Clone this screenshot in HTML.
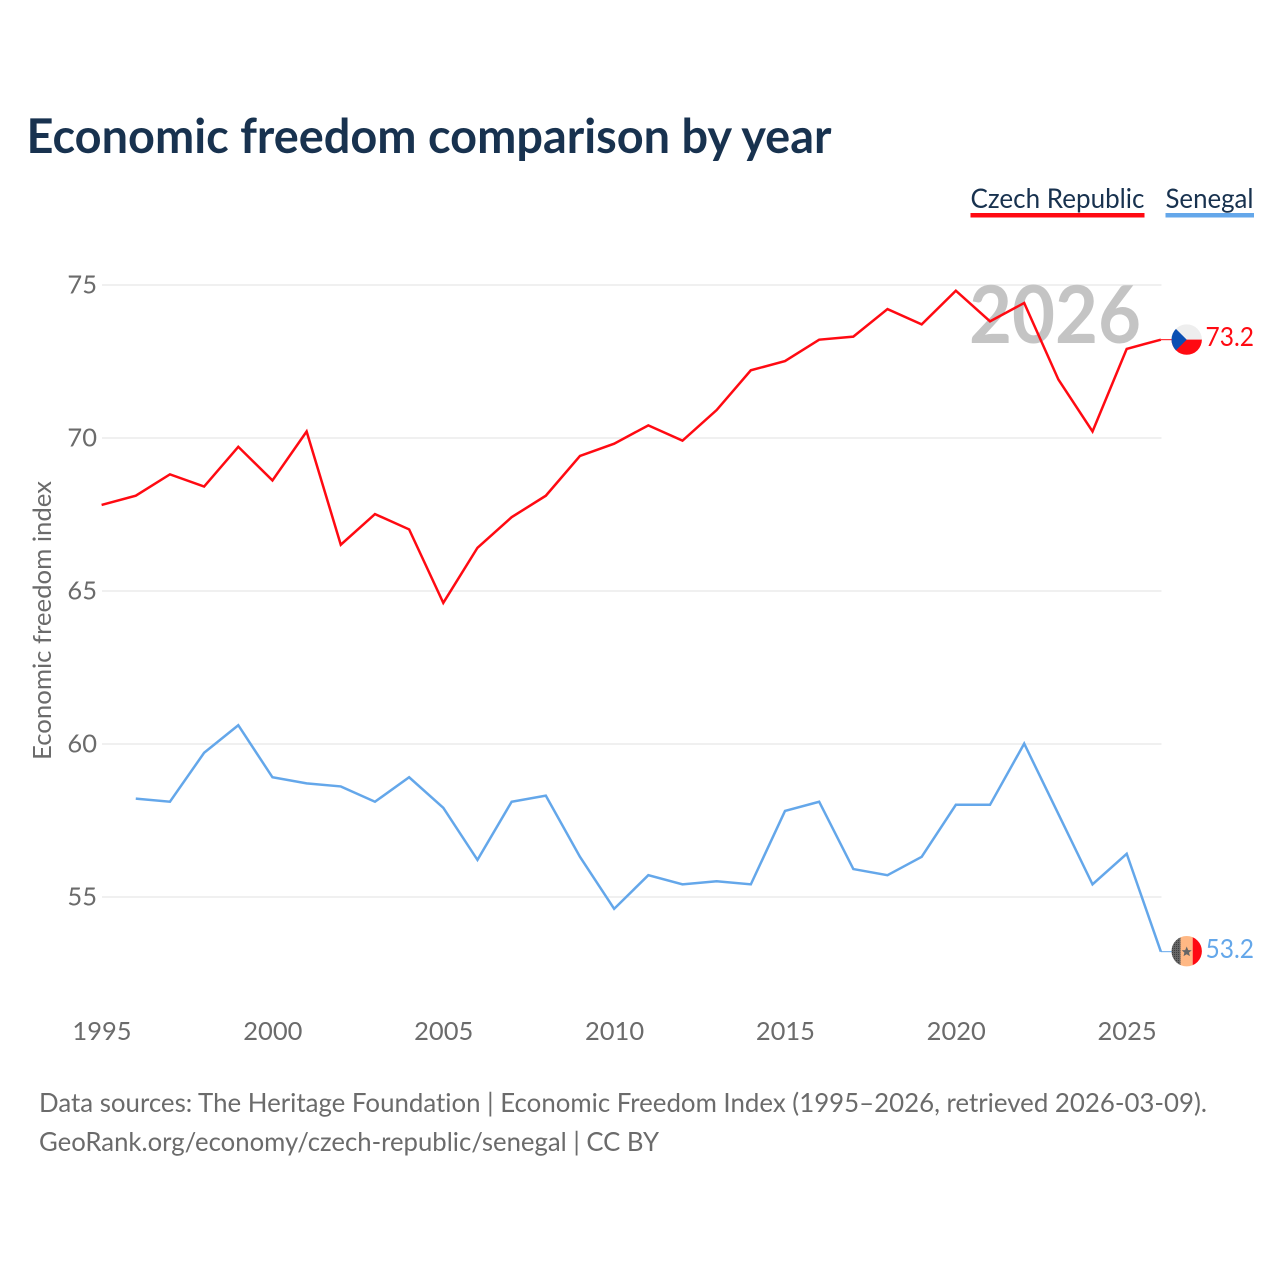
<!DOCTYPE html>
<html lang="en">
<head>
<meta charset="utf-8">
<title>Economic freedom comparison by year</title>
<style>
html,body{margin:0;padding:0;background:#fff}
svg{display:block}
text{font-family:"Lato","Carlito","Liberation Sans",sans-serif;font-variant-ligatures:none}
</style>
</head>
<body>
<svg id="chart" xmlns="http://www.w3.org/2000/svg" width="1280" height="1280" viewBox="0 0 1280 1280">
  <rect width="1280" height="1280" fill="#fff"/>
  <text x="26.5" y="153" font-size="47.5" font-weight="700" fill="#18324f" textLength="805" lengthAdjust="spacingAndGlyphs">Economic freedom comparison by year</text>

  <g>
    <text x="970.5" y="208" font-size="27.5" fill="#18324f" textLength="174" lengthAdjust="spacingAndGlyphs">Czech Republic</text>
    <rect x="970.5" y="213" width="174" height="4.5" fill="#ff0a12"/>
  </g>
  <g>
    <text x="1165.5" y="208" font-size="27.5" fill="#18324f" textLength="88" lengthAdjust="spacingAndGlyphs">Senegal</text>
    <rect x="1165.5" y="213" width="88.5" height="4.5" fill="#64a7ea"/>
  </g>

  <text transform="translate(51 760) rotate(-90)" font-size="25.5" fill="#6b6b6b" textLength="279" lengthAdjust="spacingAndGlyphs">Economic freedom index</text>

  <g id="grid"></g>
  <g id="yticks"></g>
  <g id="xticks"></g>

  <text x="1141" y="343" font-size="80" font-weight="700" fill="#c4c4c4" text-anchor="end" textLength="172" lengthAdjust="spacingAndGlyphs">2026</text>

  <g id="series"></g>

  <defs>
    <clipPath id="clip-cz"><circle cx="1186.7" cy="339.6" r="15.2"/></clipPath>
    <clipPath id="clip-sn"><circle cx="1186.7" cy="951.2" r="15.2"/></clipPath>
    <pattern id="dots" width="2" height="2" patternUnits="userSpaceOnUse">
      <rect width="2" height="2" fill="#666"/>
      <rect width="1" height="1" fill="#3f3f3f"/>
    </pattern>
  </defs>

  <g clip-path="url(#clip-cz)">
    <rect x="1171" y="324" width="31" height="15.6" fill="#eeeeee"/>
    <rect x="1171" y="339.6" width="31" height="16" fill="#ff0a12"/>
    <polygon points="1171,324 1186.7,339.6 1171,355.2" fill="#0b4fb3"/>
  </g>
  <text x="1205.5" y="346" font-size="26" fill="#ff0a12" textLength="48.5" lengthAdjust="spacingAndGlyphs">73.2</text>

  <g clip-path="url(#clip-sn)">
    <rect x="1171" y="935" width="9.5" height="32" fill="url(#dots)"/>
    <rect x="1180.5" y="935" width="12.2" height="32" fill="#ffb884"/>
    <rect x="1192.7" y="935" width="10" height="32" fill="#ff0a12"/>
    <polygon points="1186.7,946.5 1188.2,950.1 1191.7,950.3 1189,952.6 1189.9,956.1 1186.7,954.2 1183.5,956.1 1184.4,952.6 1181.7,950.3 1185.2,950.1" fill="#666"/>
  </g>
  <text x="1205.5" y="958" font-size="26" fill="#64a7ea" textLength="48.5" lengthAdjust="spacingAndGlyphs">53.2</text>

  <text x="39" y="1112" font-size="26" fill="#6b6b6b" textLength="1168" lengthAdjust="spacingAndGlyphs">Data sources: The Heritage Foundation | Economic Freedom Index (1995–2026, retrieved 2026-03-09).</text>
  <text x="39" y="1151" font-size="26" fill="#6b6b6b" textLength="620" lengthAdjust="spacingAndGlyphs">GeoRank.org/economy/czech-republic/senegal | CC BY</text>
</svg>
<script>
const years = [1995,1996,1997,1998,1999,2000,2001,2002,2003,2004,2005,2006,2007,2008,2009,2010,2011,2012,2013,2014,2015,2016,2017,2018,2019,2020,2021,2022,2023,2024,2025,2026];
const czechValues = [67.8,68.1,68.8,68.4,69.7,68.6,70.2,66.5,67.5,67.0,64.6,66.4,67.4,68.1,69.4,69.8,70.4,69.9,70.9,72.2,72.5,73.2,73.3,74.2,73.7,74.8,73.8,74.4,71.9,70.2,72.9,73.2];
const senegalValues = [null,58.2,58.1,59.7,60.6,58.9,58.7,58.6,58.1,58.9,57.9,56.2,58.1,58.3,56.3,54.6,55.7,55.4,55.5,55.4,57.8,58.1,55.9,55.7,56.3,58.0,58.0,60.0,57.7,55.4,56.4,53.2];
const yTickValues = [55,60,65,70,75];
const xTickValues = [1995,2000,2005,2010,2015,2020,2025];

const NS = 'http://www.w3.org/2000/svg';
const xScale = function (year) { return 101.6 + (year - 1995) * 34.17; };
const yScale = function (value) { return 284.6 + (75 - value) * 30.6; };

const grid = document.getElementById('grid');
const yticks = document.getElementById('yticks');
const xticks = document.getElementById('xticks');
const series = document.getElementById('series');

yTickValues.forEach(function (v) {
  const line = document.createElementNS(NS, 'line');
  
  
  line.setAttribute('x1', 102);
  line.setAttribute('x2', 1161.5);
  line.setAttribute('y1', yScale(v) + 0.4);
  line.setAttribute('y2', yScale(v) + 0.4);
  line.setAttribute('stroke', '#ebebeb');
  line.setAttribute('stroke-width', 1.5);
  grid.appendChild(line);

  const label = document.createElementNS(NS, 'text');
  
  
  label.setAttribute('x', 97);
  label.setAttribute('y', yScale(v) + 9);
  label.setAttribute('font-size', 25.5);
  label.setAttribute('fill', '#6b6b6b');
  label.setAttribute('text-anchor', 'end');
  label.textContent = v;
  yticks.appendChild(label);
});

xTickValues.forEach(function (y) {
  const label = document.createElementNS(NS, 'text');
  
  
  label.setAttribute('x', xScale(y) + 0.4);
  label.setAttribute('y', 1040);
  label.setAttribute('font-size', 25.5);
  label.setAttribute('fill', '#6b6b6b');
  label.setAttribute('text-anchor', 'middle');
  label.textContent = y;
  xticks.appendChild(label);
});

function buildPath(values) {
  let d = '';
  values.forEach(function (v, i) {
    if (v === null) return;
    d += (d === '' ? 'M' : 'L') + xScale(years[i]).toFixed(2) + ' ' + yScale(v).toFixed(2);
  });
  return d;
}

const czechLine = document.createElementNS(NS, 'path');


czechLine.setAttribute('d', buildPath(czechValues));
czechLine.setAttribute('fill', 'none');
czechLine.setAttribute('stroke', '#ff0a12');
czechLine.setAttribute('stroke-width', 2.5);
series.appendChild(czechLine);

const senegalLine = document.createElementNS(NS, 'path');


senegalLine.setAttribute('d', buildPath(senegalValues));
senegalLine.setAttribute('fill', 'none');
senegalLine.setAttribute('stroke', '#64a7ea');
senegalLine.setAttribute('stroke-width', 2.5);
series.appendChild(senegalLine);

const czechConnector = document.createElementNS(NS, 'line');


czechConnector.setAttribute('x1', xScale(2026));
czechConnector.setAttribute('x2', 1171.5);
czechConnector.setAttribute('y1', yScale(czechValues[czechValues.length - 1]));
czechConnector.setAttribute('y2', yScale(czechValues[czechValues.length - 1]));
czechConnector.setAttribute('stroke', '#ff0a12');
czechConnector.setAttribute('stroke-width', 1);
series.appendChild(czechConnector);

const senegalConnector = document.createElementNS(NS, 'line');


senegalConnector.setAttribute('x1', xScale(2026));
senegalConnector.setAttribute('x2', 1171.5);
senegalConnector.setAttribute('y1', yScale(senegalValues[senegalValues.length - 1]));
senegalConnector.setAttribute('y2', yScale(senegalValues[senegalValues.length - 1]));
senegalConnector.setAttribute('stroke', '#64a7ea');
senegalConnector.setAttribute('stroke-width', 1);
series.appendChild(senegalConnector);
</script>
</body>
</html>
